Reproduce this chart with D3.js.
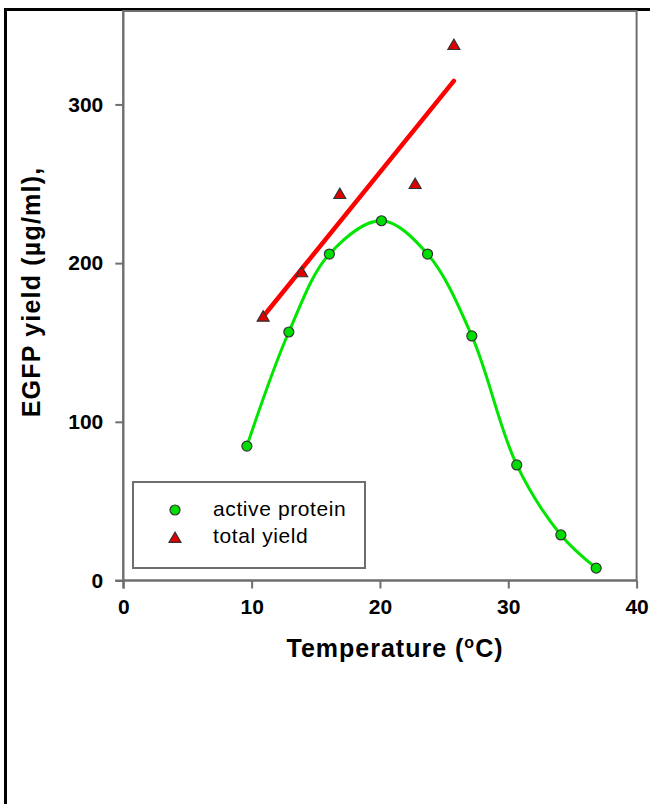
<!DOCTYPE html>
<html>
<head>
<meta charset="utf-8">
<script src="https://cdn.jsdelivr.net/npm/d3@7"></script>
<style>
  html, body { margin: 0; padding: 0; background: #fff; }
  svg { display: block; }
  text { font-family: "Liberation Sans", Arial, sans-serif; fill: #000; }
</style>
</head>
<body>
<svg id="chart" width="650" height="804"></svg>
<script>
// Temperature (°C) and EGFP yield (µg/ml)
const activeTemp  = [9.63, 12.9, 16.06, 20.12, 23.71, 27.16, 30.66, 34.1, 36.85];
const activeYield = [84.7, 156.6, 205.7, 226.7, 205.7, 154.1, 72.8, 28.7, 7.8];

const totalTemp  = [10.9, 13.9, 16.87, 22.74, 25.76];
const totalYield = [165.6, 193.6, 242.9, 249.2, 336.8];

const xTicks = [0, 10, 20, 30, 40];
const yTicks = [0, 100, 200, 300];
const legendLabels = ["active protein", "total yield"];

const svg = d3.select("#chart");

const plotL = 123.3, plotR = 636.6, plotT = 10, plotB = 580.5;
const x = d3.scaleLinear().domain([0, 40]).range([plotL, plotR]);
const y = d3.scaleLinear().domain([0, 359.5]).range([plotB, plotT]);

const axisColor = "#6e6e6e";

// outer page frame (top and left edges)
svg.append("line").attr("x1", 5).attr("x2", 650).attr("y1", 9.5).attr("y2", 9.5)
  .attr("stroke", "#000").attr("stroke-width", 3);
svg.append("line").attr("x1", 5.5).attr("x2", 5.5).attr("y1", 8).attr("y2", 804)
  .attr("stroke", "#000").attr("stroke-width", 3);

// plot box
svg.append("rect")
  .attr("x", plotL).attr("y", plotT + 1)
  .attr("width", plotR - plotL).attr("height", plotB - plotT - 1)
  .attr("fill", "none").attr("stroke", axisColor).attr("stroke-width", 2);

// axes
const xAxis = svg.append("g")
  .attr("transform", `translate(0,${plotB})`)
  .call(d3.axisBottom(x).tickValues(xTicks).tickSize(8).tickSizeOuter(0).tickPadding(11));
const yAxis = svg.append("g")
  .attr("transform", `translate(${plotL},0)`)
  .call(d3.axisLeft(y).tickValues(yTicks).tickSize(8).tickSizeOuter(0).tickPadding(12));

[xAxis, yAxis].forEach(g => {
  g.select(".domain").attr("stroke", axisColor).attr("stroke-width", 2);
  g.selectAll(".tick line").attr("stroke", axisColor).attr("stroke-width", 2);
  g.selectAll(".tick text")
    .style("font-family", "'Liberation Sans', Arial, sans-serif")
    .style("font-size", "21px").style("font-weight", "bold").attr("fill", "#000");
});
// extend the x axis line to meet the outer y tick and vice versa
xAxis.select(".domain").attr("d", `M${plotL - 8},0H${plotR}`);
yAxis.select(".domain").attr("d", `M0,${plotT}V${plotB + 8}`);

// axis titles
const xt = svg.append("text")
  .attr("x", 395).attr("y", 657)
  .attr("text-anchor", "middle")
  .style("font-size", "25px").style("font-weight", "bold")
  .style("letter-spacing", "1px");
xt.append("tspan").text("Temperature (");
xt.append("tspan").attr("dy", -9).style("font-size", "16px").text("o");
xt.append("tspan").attr("dy", 9).text("C)");

svg.append("text")
  .attr("transform", "translate(40,292) rotate(-90)")
  .attr("text-anchor", "middle")
  .style("font-size", "25px").style("font-weight", "bold")
  .style("letter-spacing", "1.2px")
  .text("EGFP yield (µg/ml),");

// linear fit through total yield
const mx = d3.mean(totalTemp), my = d3.mean(totalYield);
const slope = d3.sum(totalTemp, (t, i) => (t - mx) * (totalYield[i] - my)) /
              d3.sum(totalTemp, t => (t - mx) * (t - mx));
const intercept = my - slope * mx;
const fitX = d3.extent(totalTemp);

svg.append("line")
  .attr("x1", x(fitX[0])).attr("y1", y(intercept + slope * fitX[0]))
  .attr("x2", x(fitX[1])).attr("y2", y(intercept + slope * fitX[1]))
  .attr("stroke", "#ff0000").attr("stroke-width", 4.5).attr("stroke-linecap", "round");

// smooth curve through active protein
const activePts = activeTemp.map((t, i) => [t, activeYield[i]]);
svg.append("path")
  .datum(activePts)
  .attr("fill", "none").attr("stroke", "#00e600").attr("stroke-width", 3)
  .attr("d", d3.line().x(d => x(d[0])).y(d => y(d[1])).curve(d3.curveCatmullRom.alpha(0.5)));

const tri = d3.symbol().type(d3.symbolTriangle).size(62);

svg.append("g").selectAll("path")
  .data(totalTemp.map((t, i) => [t, totalYield[i]]))
  .join("path")
  .attr("transform", d => `translate(${x(d[0])},${y(d[1])})`)
  .attr("d", tri)
  .attr("fill", "#e00000").attr("stroke", "#333").attr("stroke-width", 1.2);

svg.append("g").selectAll("circle")
  .data(activePts)
  .join("circle")
  .attr("cx", d => x(d[0])).attr("cy", d => y(d[1])).attr("r", 5)
  .attr("fill", "#00dd00").attr("stroke", "#333").attr("stroke-width", 1.2);

// legend
const lg = svg.append("g");
lg.append("rect").attr("x", 133).attr("y", 482).attr("width", 232).attr("height", 86)
  .attr("fill", "#fff").attr("stroke", axisColor).attr("stroke-width", 2);
lg.append("circle").attr("cx", 175).attr("cy", 510).attr("r", 5)
  .attr("fill", "#00dd00").attr("stroke", "#333").attr("stroke-width", 1.2);
lg.append("path").attr("transform", "translate(175,539)").attr("d", tri)
  .attr("fill", "#e00000").attr("stroke", "#333").attr("stroke-width", 1.2);
legendLabels.forEach((s, i) => {
  lg.append("text").attr("x", 213).attr("y", 516 + i * 27)
    .style("font-size", "21px").style("letter-spacing", "0.6px").text(s);
});
</script>
</body>
</html>
